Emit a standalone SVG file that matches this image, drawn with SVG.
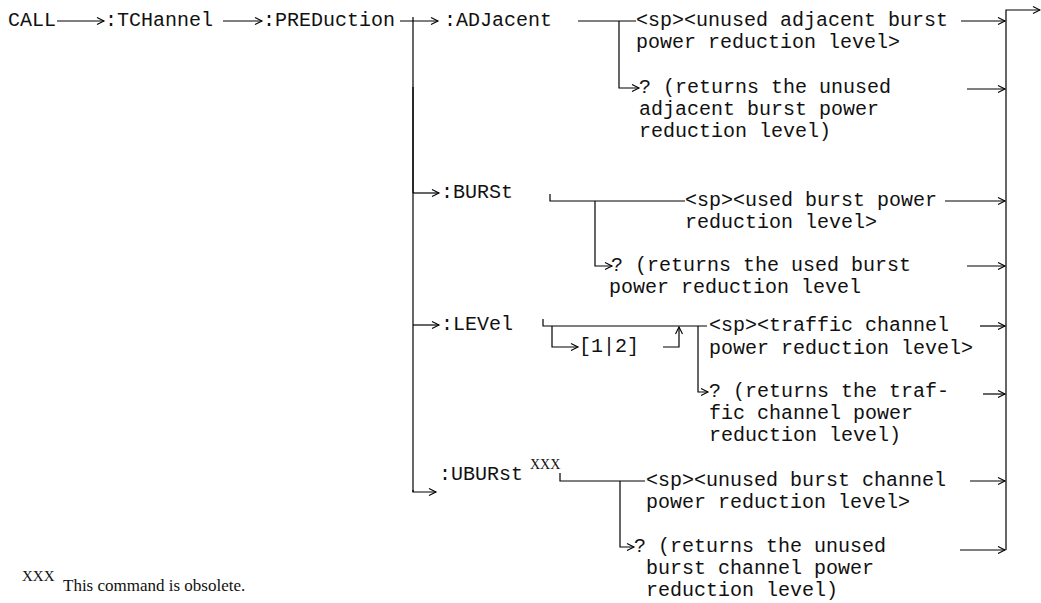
<svg xmlns="http://www.w3.org/2000/svg" width="1041" height="603" viewBox="0 0 1041 603">
<defs>
<style>
.t{font-family:"Liberation Mono","Courier New",monospace;font-size:20px;fill:#111}
.s{font-family:"Liberation Serif","Times New Roman",serif;font-size:14px;fill:#111}
.f{font-family:"Liberation Serif","Times New Roman",serif;fill:#111}
.c{fill:none;stroke:#000;stroke-width:1.2}
.a{fill:none;stroke:#000;stroke-width:1.2;marker-end:url(#ah)}
</style>
<marker id="ah" markerUnits="userSpaceOnUse" markerWidth="10" markerHeight="10" refX="7" refY="4" orient="auto" overflow="visible">
<path d="M0,0.5 L7,4 L0,7.5" fill="none" stroke="#000" stroke-width="1.1"/>
</marker>
</defs>
<rect width="1041" height="603" fill="#fff"/>

<g id="connectors">
<line class="a" x1="57" y1="21" x2="104" y2="21"/>
<line class="a" x1="223" y1="21" x2="262" y2="21"/>
<line class="a" x1="400" y1="21" x2="438" y2="21"/>
<path class="c" d="M413,17 V492"/>
<path class="c" d="M413,87 V193" stroke-width="2.6"/>
<!-- ADJacent -->
<path class="c" d="M578,21 H636"/>
<path class="a" d="M619,21 V88 H639"/>
<line class="a" x1="961" y1="21" x2="1005" y2="21"/>
<line class="a" x1="967" y1="89" x2="1005" y2="89"/>
<!-- BURSt -->
<line class="a" x1="413" y1="193" x2="439" y2="193"/>
<path class="c" d="M550,194 V201 H685"/>
<path class="a" d="M595,201 V266 H612"/>
<line class="a" x1="945" y1="201" x2="1005" y2="201"/>
<line class="a" x1="967" y1="266" x2="1005" y2="266"/>
<!-- LEVel -->
<line class="a" x1="413" y1="325" x2="439" y2="325"/>
<path class="c" d="M543,319 V326 H707"/>
<path class="a" d="M552,326 V347 H578"/>
<path class="a" d="M663,347 H679 V327"/>
<path class="a" d="M698,326 V392 H708"/>
<line class="a" x1="980" y1="326" x2="1005" y2="326"/>
<line class="a" x1="983" y1="394" x2="1005" y2="394"/>
<!-- UBURst -->
<path class="a" d="M413,490 V492 H436"/>
<path class="c" d="M560,473 V481 H645"/>
<path class="a" d="M620,481 V547 H634"/>
<line class="a" x1="970" y1="481" x2="1005" y2="481"/>
<line class="a" x1="960" y1="550" x2="1005" y2="550"/>
<!-- right bus -->
<path class="a" d="M1006,550 V10 H1040"/>
</g>

<g id="call"><text class="t" x="8" y="26">CALL</text></g>
<g id="tchannel"><text class="t" x="105" y="26">:TCHannel</text></g>
<g id="preduction"><text class="t" x="263" y="26">:PREDuction</text></g>

<g id="adjacent">
<text class="t" x="444" y="26">:ADJacent</text>
<text class="t" x="636" y="26">&lt;sp&gt;&lt;unused adjacent burst</text>
<text class="t" x="636" y="48">power reduction level&gt;</text>
<text class="t" x="639" y="93">? (returns the unused</text>
<text class="t" x="639" y="115">adjacent burst power</text>
<text class="t" x="639" y="137">reduction level)</text>
</g>

<g id="burst">
<text class="t" x="441" y="198">:BURSt</text>
<text class="t" x="685" y="206">&lt;sp&gt;&lt;used burst power</text>
<text class="t" x="685" y="228">reduction level&gt;</text>
<text class="t" x="611" y="271">? (returns the used burst</text>
<text class="t" x="609" y="293">power reduction level</text>
</g>

<g id="level">
<text class="t" x="441" y="330">:LEVel</text>
<text class="t" x="579" y="352">[1|2]</text>
<text class="t" x="709" y="331">&lt;sp&gt;&lt;traffic channel</text>
<text class="t" x="709" y="354">power reduction level&gt;</text>
<text class="t" x="709" y="397">? (returns the traf-</text>
<text class="t" x="709" y="419">fic channel power</text>
<text class="t" x="709" y="441">reduction level)</text>
</g>

<g id="uburst">
<text class="t" x="439" y="480">:UBURst</text>
<text class="s" x="530" y="469">XXX</text>
<text class="t" x="646" y="486">&lt;sp&gt;&lt;unused burst channel</text>
<text class="t" x="646" y="508">power reduction level&gt;</text>
<text class="t" x="634" y="552">? (returns the unused</text>
<text class="t" x="646" y="574">burst channel power</text>
<text class="t" x="646" y="596">reduction level)</text>
</g>

<g id="footnote">
<text class="f" x="22" y="581" font-size="15">XXX</text>
<text class="f" x="63" y="591" font-size="17">This command is obsolete.</text>
</g>
</svg>
